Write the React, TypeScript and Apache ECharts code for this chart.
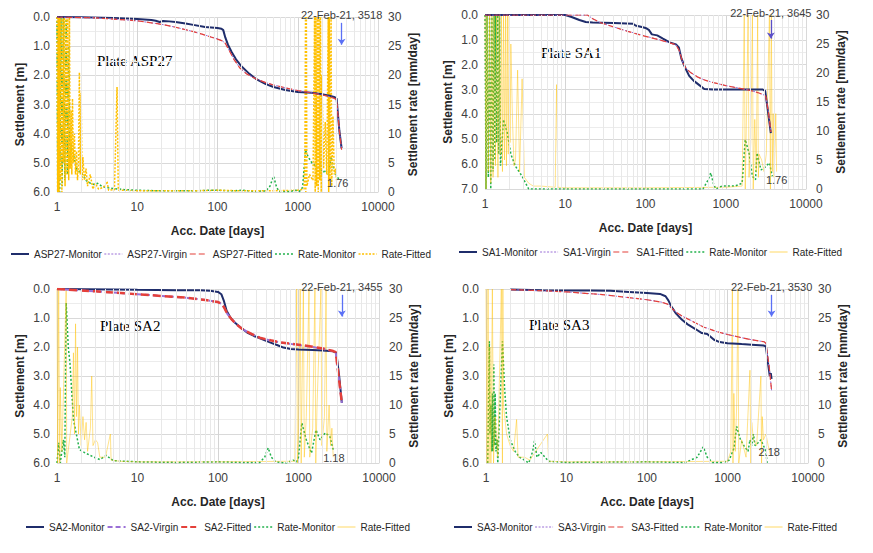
import React, { useEffect, useRef } from "react";
import * as echarts from "echarts";

type P = [number, number];

// ---------- Data (x = accumulated days, y = settlement [m] or rate [mm/day]) ----------
const asp27Monitor: P[] = [[1,0],[2,0.01],[5,0.03],[10,0.07],[15,0.1],[17,0.13],[19,0.17],[21,0.14],[25,0.15],[30,0.17],[40,0.22],[50,0.27],[70,0.34],[100,0.38],[112,0.4],[118,0.45],[125,0.7],[135,0.95],[150,1.2],[170,1.45],[200,1.7],[250,1.95],[300,2.12],[400,2.3],[500,2.4],[700,2.5],[1000,2.57],[1500,2.6],[2000,2.65],[2500,2.7],[2900,2.75],[3050,2.8],[3300,3.9],[3518,4.5]];
const asp27Virgin: P[] = [[1,0],[3,0.03],[5,0.07],[10,0.13],[20,0.25],[30,0.35],[50,0.5],[70,0.62],[100,0.75],[115,0.82],[125,0.9],[140,1.15],[160,1.45],[190,1.75],[230,1.95],[300,2.12],[400,2.25],[500,2.33],[700,2.43],[1000,2.52],[1500,2.6],[2000,2.67],[2500,2.73],[2900,2.8],[3050,2.85],[3300,3.9],[3518,4.55]];
const asp27Fitted: P[] = [[1,0],[3,0.03],[5,0.07],[10,0.13],[20,0.25],[30,0.35],[50,0.5],[70,0.62],[100,0.76],[115,0.82],[125,0.9],[140,1.15],[160,1.45],[190,1.75],[230,1.95],[300,2.12],[400,2.25],[500,2.33],[700,2.43],[1000,2.52],[1500,2.6],[2000,2.67],[2500,2.73],[2900,2.8],[3050,2.85],[3300,3.9],[3518,4.55]];
const asp27RateMonitor: P[] = [[1,30],[1.02,0],[1.05,30],[1.08,0],[1.12,30],[1.16,1],[1.2,30],[1.25,2],[1.3,30],[1.35,3],[1.4,25],[1.45,5],[1.5,8],[1.6,6.5],[1.75,4],[1.9,3.5],[2.1,3],[2.3,2],[2.6,1.5],[2.9,1.3],[3.2,1.5],[3.6,1],[4,0.8],[5,0.6],[7,0.4],[10,0.3],[20,0.2],[50,0.2],[80,0.3],[100,0.3],[150,0.2],[200,0.3],[300,0.1],[400,0.2],[450,1],[500,2.7],[540,1],[580,0.1],[800,0.1],[950,0.3],[1050,0.1],[1150,0.8],[1250,7.2],[1350,6],[1500,5],[1650,4.5],[1800,3.5],[1900,5],[2000,3],[2200,3.8],[2400,3],[2600,6],[2800,4],[3000,3],[3300,2]];
const asp27RateFitted: P[] = [[1,30],[1.02,0],[1.04,30],[1.06,0],[1.08,30],[1.1,2],[1.12,30],[1.15,0],[1.18,30],[1.2,5],[1.23,30],[1.26,1],[1.3,30],[1.33,3],[1.36,30],[1.4,2],[1.43,30],[1.46,4],[1.5,14],[1.53,3],[1.56,16],[1.6,5],[1.65,10],[1.7,3],[1.75,7],[1.8,2],[1.85,5],[1.9,20.5],[1.95,3],[2,17],[2.05,2],[2.1,6],[2.2,2],[2.3,4],[2.4,1],[2.6,3],[2.8,0.5],[3,1.5],[3.3,0.5],[3.8,0.8],[4.2,1.8],[4.4,0.3],[5.2,0.4],[5.6,18],[5.8,0.3],[7,0.3],[10,0.2],[20,0.2],[50,0.2],[100,0.3],[200,0.2],[400,0.2],[1000,0.3],[1200,0.5],[1230,8],[1250,30],[1260,0],[1280,30],[1300,1],[1400,3],[1550,2],[1620,30],[1650,0],[1680,30],[1720,1],[1760,30],[1800,0],[1840,30],[1880,2],[1920,30],[1960,0],[2000,20],[2100,4],[2200,12],[2300,3],[2400,30],[2430,0],[2470,30],[2520,2],[2600,30],[2650,1],[2750,13],[2850,3],[2950,4],[3050,2]];

const sa1Monitor: P[] = [[1,0],[5,0],[10,0],[12,0.08],[15,0.2],[18,0.28],[22,0.3],[40,0.32],[70,0.35],[75,0.42],[90,0.48],[100,0.52],[110,0.6],[120,0.78],[140,0.82],[165,0.95],[200,1.1],[240,1.18],[260,1.3],[280,1.75],[310,2.1],[350,2.45],[400,2.65],[460,2.8],[540,2.98],[700,3],[1000,3],[2000,3],[2900,3],[3100,3.05],[3300,3.7],[3645,4.75]];
const sa1Virgin: P[] = [[1,0],[10,0],[19,0],[22,0.15],[27,0.3],[40,0.48],[60,0.65],[100,0.85],[150,1],[200,1.12],[240,1.2],[265,1.45],[290,1.9],[320,2.15],[360,2.3],[450,2.5],[550,2.62],[700,2.72],[1000,2.84],[1500,2.95],[2000,3.03],[2500,3.12],[3000,3.22],[3150,3.27],[3400,3.9],[3645,4.7]];
const sa1Fitted: P[] = [[1,0],[10,0],[19,0],[22,0.15],[27,0.3],[40,0.48],[60,0.66],[100,0.86],[150,1],[200,1.12],[240,1.2],[265,1.45],[290,1.9],[320,2.15],[360,2.3],[450,2.5],[550,2.62],[700,2.72],[1000,2.84],[1500,2.95],[2000,3.03],[2500,3.12],[3000,3.22],[3150,3.27],[3400,3.9],[3645,4.7]];
const sa1RateMonitor: P[] = [[1,30],[1.03,0],[1.06,30],[1.1,2],[1.14,30],[1.18,0],[1.22,30],[1.26,3],[1.3,30],[1.33,5],[1.36,30],[1.4,8],[1.44,30],[1.48,6],[1.52,30],[1.56,4],[1.7,12],[1.9,9.6],[2.1,6],[2.4,3.9],[2.9,2.2],[3.5,0],[10,0],[100,0],[520,0],[600,1.5],[650,2.8],[700,1],[750,0],[900,0.5],[1300,0.5],[1600,1],[1750,8.5],[1950,6.2],[2150,2.2],[2350,1.6],[2450,6.2],[2750,3.3],[3000,3.6],[3500,4.5],[3800,2.2]];
const sa1RateFitted: P[] = [[1,30],[1.03,0],[1.06,30],[1.1,3],[1.14,30],[1.18,1],[1.22,30],[1.26,2],[1.3,30],[1.35,4],[1.4,30],[1.45,2],[1.5,30],[1.55,6],[1.6,30],[1.65,3],[1.7,30],[1.75,5],[1.8,30],[1.85,4],[1.9,30],[1.95,6],[2,30],[2.05,8],[2.1,25],[2.2,12],[2.3,4],[2.4,5],[2.55,20.5],[2.7,3],[2.9,19],[3.1,2],[3.5,1],[4,0.5],[5,0.5],[7.5,0.3],[7.8,18],[8.1,0.3],[10,0.2],[100,0.2],[1000,0.3],[1600,0.5],[1700,30],[1750,0],[1800,10],[1900,30],[1950,2],[2050,8],[2150,30],[2200,0],[2300,12],[2400,3],[2500,30],[2550,2],[2600,6],[2800,5],[3000,3],[3200,6],[3500,30],[3600,0],[3700,30],[3800,3],[3900,13],[4000,2],[4200,13],[4300,3]];

const sa2Monitor: P[] = [[1,0],[5,0.02],[10,0.03],[30,0.04],[60,0.04],[80,0.06],[100,0.1],[110,0.18],[118,0.4],[128,0.75],[140,0.95],[160,1.15],[190,1.32],[230,1.5],[280,1.62],[350,1.73],[450,1.85],[550,1.94],[650,2.02],[800,2.07],[1000,2.09],[1500,2.1],[2000,2.12],[2700,2.15],[2950,2.2],[3200,3],[3455,3.93]];
const sa2Virgin: P[] = [[1,0],[3,0.08],[10,0.18],[20,0.24],[40,0.3],[70,0.38],[100,0.45],[112,0.52],[120,0.65],[130,0.85],[145,1.02],[170,1.22],[200,1.38],[260,1.55],[330,1.68],[450,1.78],[600,1.85],[1000,1.93],[1500,2],[2000,2.06],[2700,2.15],[2900,2.18],[3150,3],[3455,3.93]];
const sa2Fitted: P[] = [[1,0],[3,0.08],[10,0.18],[20,0.24],[40,0.3],[70,0.38],[100,0.45],[112,0.52],[120,0.65],[130,0.85],[145,1.02],[170,1.22],[200,1.38],[260,1.55],[330,1.68],[450,1.77],[600,1.84],[1000,1.92],[1500,1.99],[2000,2.05],[2700,2.14],[2900,2.18],[3150,3],[3455,3.93]];
const sa2RateMonitor: P[] = [[1,0],[1.05,3.5],[1.1,0],[1.2,4],[1.25,1],[1.3,27.6],[1.38,20],[1.45,17.2],[1.6,7.5],[1.9,2.3],[2.2,1.8],[2.5,1.4],[3,0.9],[3.4,0.6],[4.1,1.3],[5,0.4],[7,0.3],[10,0.2],[30,0.1],[100,0.2],[200,0.1],[330,0.1],[380,1],[420,2.6],[460,1],[520,0.2],[700,0],[860,0.5],[950,0.2],[1000,1],[1100,6.9],[1250,4],[1450,1.7],[1650,5.7],[1850,4],[2150,5.2],[2450,4.6],[2700,2.3]];
const sa2RateFitted: P[] = [[1,30],[1.02,0],[1.05,30],[1.08,0],[1.1,13],[1.15,2],[1.3,30],[1.32,0],[1.55,8],[1.6,19],[1.65,5],[1.7,24],[1.75,8],[1.8,20],[1.85,5],[1.9,10],[2,3],[2.1,8],[2.2,4],[2.3,7],[2.4,2],[2.6,6],[2.7,15],[2.8,3],[3,4],[3.2,3.5],[3.4,1],[4,1],[4.6,5],[4.7,0.5],[6,0.3],[10,0.2],[100,0.2],[900,0.3],[950,30],[970,0],[1000,5],[1050,30],[1080,0],[1100,10],[1150,30],[1180,1],[1250,8],[1350,30],[1380,1],[1500,6],[1600,30],[1640,0],[1700,10],[1900,30],[1950,3],[2100,8],[2200,30],[2250,2],[2400,10],[2500,3],[2600,6],[2700,1]];

const sa3Monitor: P[] = [[2,0.02],[5,0.04],[10,0.05],[20,0.05],[35,0.06],[60,0.1],[100,0.14],[145,0.17],[170,0.25],[185,0.4],[200,0.6],[230,0.85],[270,1.05],[320,1.22],[400,1.38],[480,1.52],[560,1.55],[600,1.62],[680,1.75],[800,1.83],[1000,1.87],[1500,1.9],[2000,1.92],[2800,1.95],[3000,1.98],[3200,2.6],[3350,3],[3450,2.9],[3530,3.1]];
const sa3Virgin: P[] = [[2,0.02],[5,0.06],[10,0.1],[30,0.2],[60,0.3],[100,0.37],[150,0.45],[180,0.52],[200,0.65],[230,0.8],[280,0.95],[340,1.06],[420,1.2],[500,1.3],[700,1.45],[1000,1.57],[1500,1.68],[2000,1.75],[2850,1.82],[3000,1.87],[3300,2.7],[3530,3.5]];
const sa3Fitted: P[] = [[2,0.02],[5,0.06],[10,0.1],[30,0.2],[60,0.3],[100,0.37],[150,0.45],[180,0.52],[200,0.65],[230,0.8],[280,0.95],[340,1.07],[420,1.2],[500,1.31],[700,1.45],[1000,1.57],[1500,1.68],[2000,1.75],[2850,1.82],[3000,1.87],[3300,2.7],[3530,3.5]];
const sa3RateMonitor: P[] = [[1.05,0],[1.1,21],[1.12,5],[1.15,10],[1.18,2],[1.2,12],[1.22,2],[1.25,17],[1.28,3],[1.3,12],[1.33,2],[1.38,4],[1.4,0],[1.6,21],[1.7,13],[1.8,8],[2,4],[2.3,2],[2.6,1],[3,0.5],[3.4,0],[3.8,2],[4,3.8],[4.3,1],[4.8,1.8],[5.4,1],[6,0.3],[10,0.1],[100,0.2],[300,0.1],[420,1],[500,2.8],[560,1],[650,0.1],[900,0.1],[1050,0.5],[1100,1.2],[1200,2.5],[1300,6.3],[1450,4],[1600,3],[1800,2],[1900,4],[2000,3],[2100,5],[2200,3],[2400,3.5],[2600,4],[2800,3],[3000,2],[3100,0]];
const sa3RateFitted: P[] = [[1,30],[1.03,0],[1.06,30],[1.09,0],[1.12,20],[1.15,0],[1.2,30],[1.24,0],[1.3,8],[1.4,1],[1.55,30],[1.6,0],[1.62,30],[1.65,10],[1.8,5],[2,3],[2.2,2],[2.4,7.5],[2.5,1],[3,1],[3.5,0.5],[5.8,5],[6,0.3],[10,0.2],[100,0.2],[1000,0.3],[1100,2],[1150,30],[1170,0],[1200,12],[1250,2],[1300,10],[1350,30],[1380,0],[1500,4],[1700,1],[1900,16],[1950,0],[2000,7],[2100,4],[2300,3],[2600,15],[2650,0],[2700,8],[2800,4],[3000,5],[3200,3],[3400,1.5]];

const xMinorTicks: number[] = [2,3,4,5,6,7,8,9,20,30,40,50,60,70,80,90,200,300,400,500,600,700,800,900,2000,3000,4000,5000,6000,7000,8000,9000];
const plateNames = ["ASP27", "SA1", "SA2", "SA3"];
const endDays = [3518, 3645, 3455, 3530];
const endDate = "22-Feb-21";
const rateLabels = ["1.76", "1.76", "1.18", "2.18"];
const rateLabelAt: P[] = [[3150, 1.5], [4300, 1.55], [2750, 0.9], [3300, 1.9]];
const settleMax = [6, 7, 6, 6];

// ---------- Layout ----------
const grids = [
  { left: 57, top: 17, width: 321, height: 175 },
  { left: 485, top: 15, width: 321, height: 174 },
  { left: 57, top: 289, width: 322, height: 174 },
  { left: 486, top: 289, width: 322, height: 174 },
];
const legendPos = [
  { left: 5, top: 244 },
  { left: 453, top: 242 },
  { left: 20, top: 517 },
  { left: 448, top: 517 },
];
const platePos = [
  { left: 97, top: 53 },
  { left: 541, top: 45 },
  { left: 100, top: 318 },
  { left: 529, top: 317 },
];

const panelData = [
  { monitor: asp27Monitor, virgin: asp27Virgin, fitted: asp27Fitted, rMon: asp27RateMonitor, rFit: asp27RateFitted },
  { monitor: sa1Monitor, virgin: sa1Virgin, fitted: sa1Fitted, rMon: sa1RateMonitor, rFit: sa1RateFitted },
  { monitor: sa2Monitor, virgin: sa2Virgin, fitted: sa2Fitted, rMon: sa2RateMonitor, rFit: sa2RateFitted },
  { monitor: sa3Monitor, virgin: sa3Virgin, fitted: sa3Fitted, rMon: sa3RateMonitor, rFit: sa3RateFitted },
];

const NAVY = "#1f2d6b";
const PURPLE = "#9a6fd6";
const RED = "#e4403a";
const GREEN = "#22b14c";
const GOLD = "#ffc000";
const FONT = "Liberation Sans, Arial, sans-serif";
const HIDDEN = { opacity: 0 };

function buildOption() {
  const xAxis: any[] = [];
  const yAxis: any[] = [];
  const series: any[] = [];
  const legend: any[] = [];
  const graphic: any[] = [];

  grids.forEach((g, i) => {
    const heavy = i === 2;
    const fitDotted = i === 0;
    xAxis.push({
      type: "log",
      logBase: 10,
      min: 1,
      max: 10000,
      gridIndex: i,
      name: "Acc. Date [days]",
      nameLocation: "middle",
      nameGap: 33,
      nameTextStyle: { fontFamily: FONT, fontWeight: "bold", fontSize: 12, color: "#262626" },
      axisLine: { show: true, lineStyle: { color: "#d9d9d9" } },
      axisTick: { show: false },
      axisLabel: { fontFamily: FONT, fontSize: 12, color: "#404040", margin: 9, formatter: (v: number) => String(Math.round(v)) },
      splitLine: { show: true, lineStyle: { color: "#d4d4d4", width: 1 } },
    });
    yAxis.push({
      type: "value",
      gridIndex: i,
      inverse: true,
      min: 0,
      max: settleMax[i],
      interval: 1,
      name: "Settlement [m]",
      nameLocation: "middle",
      nameGap: 31,
      nameTextStyle: { fontFamily: FONT, fontWeight: "bold", fontSize: 12, color: "#262626" },
      axisLine: { show: false },
      axisTick: { show: false },
      axisLabel: { fontFamily: FONT, fontSize: 12, color: "#404040", margin: 7, formatter: (v: number) => v.toFixed(1) },
      splitLine: { show: true, lineStyle: { color: "#d9d9d9" } },
      minorTick: { show: false, splitNumber: 2 },
      minorSplitLine: { show: true, lineStyle: { color: "#ececec" } },
    });
    yAxis.push({
      type: "value",
      gridIndex: i,
      position: "right",
      min: 0,
      max: 30,
      interval: 5,
      name: "Settlement rate [mm/day]",
      nameLocation: "middle",
      nameGap: 29,
      nameTextStyle: { fontFamily: FONT, fontWeight: "bold", fontSize: 12, color: "#262626" },
      axisLine: { show: true, lineStyle: { color: "#d9d9d9" } },
      axisTick: { show: false },
      axisLabel: { fontFamily: FONT, fontSize: 12, color: "#404040", margin: 10 },
      splitLine: { show: false },
    });
    const yl = i * 2;
    const yr = i * 2 + 1;
    const d = panelData[i];
    const p = plateNames[i];

    // minor vertical grid lines (log axis)
    series.push({
      type: "line",
      xAxisIndex: i,
      yAxisIndex: yl,
      data: [],
      silent: true,
      z: 0,
      markLine: {
        silent: true,
        symbol: "none",
        animation: false,
        label: { show: false },
        lineStyle: { color: "#e8e8e8", width: 1, type: "solid" },
        data: xMinorTicks.map((v) => ({ xAxis: v })),
      },
    });

    series.push({
      name: p + "-Monitor",
      type: "line",
      xAxisIndex: i,
      yAxisIndex: yl,
      data: d.monitor,
      symbol: "none",
      lineStyle: { color: NAVY, width: 2 },
      itemStyle: { color: NAVY },
      z: 3,
      markLine: {
        silent: true,
        symbol: ["none", "arrow"],
        symbolSize: 6,
        label: { show: false },
        lineStyle: { color: i === 1 ? "#5a4fc8" : "#5b70f5", width: 1.3, type: "solid" },
        data: [[{ coord: [endDays[i], 0.2] }, { coord: [endDays[i], 0.95] }]],
      },
      markPoint: {
        silent: true,
        symbol: "circle",
        symbolSize: 0,
        data: [{ coord: [endDays[i], 0] }],
        label: {
          show: true,
          position: "inside",
          offset: [0, -2],
          formatter: endDate + ", " + endDays[i],
          fontFamily: FONT,
          fontSize: 11,
          color: "#404040",
        },
      },
    });
    series.push({
      name: p + "-Virgin",
      type: "line",
      xAxisIndex: i,
      yAxisIndex: yl,
      data: d.virgin,
      symbol: "none",
      lineStyle: { color: PURPLE, width: heavy ? 2 : 1, type: heavy ? [5, 3] : [2, 1.5] },
      itemStyle: { color: PURPLE },
      z: 3,
    });
    series.push({
      name: p + "-Fitted",
      type: "line",
      xAxisIndex: i,
      yAxisIndex: yl,
      data: d.fitted,
      symbol: "none",
      lineStyle: { color: RED, width: heavy ? 2.5 : 1.2, type: heavy ? [8, 4] : [6, 3] },
      itemStyle: { color: RED },
      z: 3,
    });
    series.push({
      name: "Rate-Monitor",
      type: "line",
      xAxisIndex: i,
      yAxisIndex: yr,
      data: d.rMon,
      symbol: "none",
      lineStyle: { color: GREEN, width: 1.5, type: [2, 2] },
      itemStyle: { color: GREEN },
      z: 2,
      markPoint: {
        silent: true,
        symbol: "circle",
        symbolSize: 0,
        data: [{ coord: rateLabelAt[i] }],
        label: { show: true, position: "inside", formatter: rateLabels[i], fontFamily: FONT, fontSize: 11, color: "#404040" },
      },
    });
    series.push({
      name: "Rate-Fitted",
      type: "line",
      xAxisIndex: i,
      yAxisIndex: yr,
      data: d.rFit,
      symbol: "none",
      lineStyle: fitDotted
        ? { color: GOLD, width: 1.5, type: [2, 1.5] }
        : { color: GOLD, width: 1, opacity: 0.45, type: "solid" },
      itemStyle: { color: GOLD },
      z: 2,
    });

    legend.push({
      left: legendPos[i].left,
      top: legendPos[i].top,
      orient: "horizontal",
      itemWidth: 18,
      itemHeight: 8,
      itemGap: 2,
      selectedMode: false,
      textStyle: { fontFamily: FONT, fontSize: 10, color: "#262626" },
      data: [
        { name: p + "-Monitor", itemStyle: HIDDEN, lineStyle: { color: NAVY, width: 2, type: "solid" } },
        { name: p + "-Virgin", itemStyle: HIDDEN, lineStyle: { color: PURPLE, width: heavy ? 2 : 1, type: heavy ? [5, 3] : [2, 1.5] } },
        { name: p + "-Fitted", itemStyle: HIDDEN, lineStyle: { color: RED, width: heavy ? 2 : 1.2, type: [6, 3] } },
        { name: "Rate-Monitor", itemStyle: HIDDEN, lineStyle: { color: GREEN, width: 1.5, type: [2, 2] } },
        {
          name: "Rate-Fitted",
          itemStyle: HIDDEN,
          lineStyle: fitDotted
            ? { color: GOLD, width: 1.5, type: [2, 1.5] }
            : { color: "#ffd966", width: 1, type: "solid" },
        },
      ],
    });

    graphic.push({
      type: "text",
      left: platePos[i].left,
      top: platePos[i].top,
      silent: true,
      style: {
        text: "Plate " + p,
        fontFamily: "Liberation Serif, Times New Roman, serif",
        fontSize: 15,
        fill: "#000",
      },
    });
  });

  return {
    animation: false,
    backgroundColor: "#ffffff",
    grid: grids.map((g) => ({ ...g, containLabel: false })),
    xAxis,
    yAxis,
    series,
    legend,
    graphic,
  };
}

export default function App() {
  const ref = useRef<HTMLDivElement>(null);
  useEffect(() => {
    if (!ref.current) return;
    const chart = echarts.init(ref.current, undefined, { renderer: "svg" });
    chart.setOption(buildOption() as any);
    return () => chart.dispose();
  }, []);
  return (
    <div
      ref={ref}
      style={{ position: "fixed", left: 0, top: 0, width: 873, height: 553, background: "#fff" }}
    />
  );
}
